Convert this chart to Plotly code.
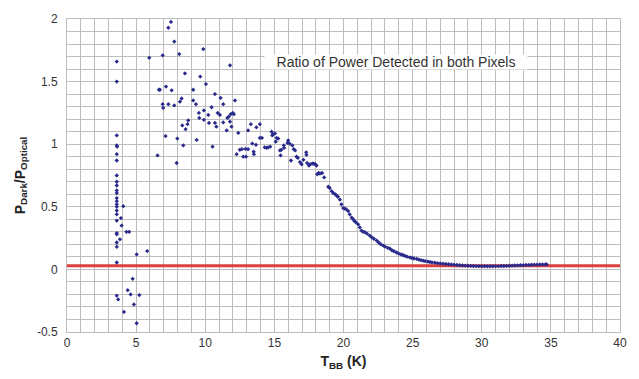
import plotly.graph_objects as go

# Blackbody temperature (K) and measured dark/optical power ratio
t_bb = [
    # low-temperature scatter
    3.6, 3.6, 3.6, 3.6, 3.62, 3.6, 3.6, 3.6, 3.6, 3.6, 3.6, 3.6, 3.6, 3.6,
    3.6, 3.6, 3.6, 3.6, 3.6, 3.6, 3.6, 3.6, 3.6, 3.6, 3.6, 3.7,
    4.07, 3.9, 3.95, 3.83, 4.3, 4.5, 5.04, 5.8, 4.75, 4.39, 4.6, 5.23, 4.84,
    4.12, 5.04,
    # 6-12 K scatter
    5.95, 6.92, 7.33, 7.52, 7.76, 8.12, 9.86, 11.79, 8.53, 9.64, 10.05,
    6.65, 6.72, 7.16, 7.57, 9.13, 10.7, 11.11, 8.29, 8.17, 9.13, 9.33, 6.92,
    7.33, 7.76, 6.96, 11.3, 12.15, 10.46, 9.9, 9.54, 10.22, 10.9, 11.06,
    11.7, 11.6, 11.85, 12.0, 9.57, 9.9, 8.77, 10.27, 10.7, 11.3, 11.79, 8.34,
    8.72, 10.8, 11.9, 8.58, 11.55, 12.39, 7.98, 9.38, 7.13, 8.41, 10.53,
    6.55, 7.93,
    # 12-19 K band
    12.07, 12.27, 12.5, 12.65, 12.9, 12.75, 12.95, 13.1, 13.5, 13.52, 13.3,
    13.1, 13.7, 13.95, 13.4, 13.67, 13.95, 14.1, 14.3, 14.45, 14.55, 14.7,
    14.8, 14.9, 14.85, 15.04, 15.28, 15.16, 15.1, 15.4, 15.5, 15.45, 15.7,
    15.68, 16.0, 16.1, 16.3, 15.95, 16.4, 16.2, 16.5, 16.6, 16.7, 16.85,
    16.97, 17.3, 17.32, 17.1, 17.37, 17.5, 17.6, 17.75, 17.85, 17.95, 18.05,
    18.1, 18.2, 18.3, 18.45, 18.6, 18.9,
    # high-temperature tail
    19.0, 19.15, 19.26, 19.4, 19.5, 19.6, 19.74, 19.85, 19.98, 20.1, 20.2,
    20.34, 20.45, 20.59, 20.7, 20.8, 20.9, 21.06, 21.18, 21.3, 21.42, 21.55,
    21.7, 21.9, 22.05, 22.2, 22.4, 22.55, 22.7, 22.87, 23.0, 23.2, 23.35,
    23.5, 23.65, 23.84, 24.0, 24.15, 24.3, 24.45, 24.6, 24.8, 24.95, 25.1,
    25.3, 25.45, 25.6, 25.76, 25.9, 26.1, 26.25, 26.4, 26.6, 26.8, 27.0,
    27.2, 27.4, 27.6, 27.8, 28.0, 28.2, 28.4, 28.6, 28.8, 29.0, 29.2, 29.4,
    29.6, 29.8, 30.0, 30.2, 30.4, 30.6, 30.8, 31.0, 31.2, 31.4, 31.6, 31.8,
    32.0, 32.2, 32.4, 32.6, 32.8, 33.0, 33.2, 33.4, 33.6, 33.8, 34.0, 34.2,
    34.4, 34.6, 34.7,
]

ratio = [
    1.66, 1.50, 1.07, 0.99, 0.98, 0.92, 0.87, 0.75, 0.70, 0.67, 0.63, 0.61,
    0.57, 0.545, 0.52, 0.50, 0.47, 0.44, 0.39, 0.29, 0.28, 0.215, 0.18, 0.055,
    -0.21, -0.24,
    0.505, 0.41, 0.35, 0.24, 0.30, 0.30, 0.12, 0.146, -0.075, -0.166, -0.20,
    -0.205, -0.28, -0.34, -0.43,
    1.69, 1.71, 1.93, 1.977, 1.82, 1.72, 1.76, 1.63, 1.565, 1.54, 1.48,
    1.435, 1.435, 1.46, 1.43, 1.435, 1.40, 1.37, 1.365, 1.34, 1.35, 1.32,
    1.32, 1.32, 1.31, 1.29, 1.32, 1.35, 1.295, 1.27, 1.25, 1.234, 1.25,
    1.234, 1.22, 1.21, 1.24, 1.25, 1.21, 1.195, 1.19, 1.17, 1.17, 1.174,
    1.18, 1.15, 1.16, 1.14, 1.14, 1.12, 1.11, 1.09, 1.045, 1.034, 1.065,
    0.99, 0.98, 0.91, 0.85,
    1.24, 0.92, 0.955, 0.96, 0.962, 0.90, 0.90, 0.96, 0.94, 0.92, 1.16,
    1.11, 1.135, 1.16, 1.005, 0.995, 1.05, 1.05, 0.975, 0.97, 0.975, 0.98,
    1.10, 1.08, 1.07, 1.086, 1.045, 1.05, 1.02, 0.95, 0.955, 0.91, 0.97,
    0.99, 1.03, 1.005, 0.99, 1.01, 0.96, 0.87, 0.95, 0.90, 0.89, 0.857,
    0.84, 0.935, 0.915, 0.875, 0.85, 0.83, 0.84, 0.845, 0.845, 0.84, 0.83,
    0.76, 0.77, 0.765, 0.77, 0.735, 0.66,
    0.65, 0.625, 0.61, 0.60, 0.59, 0.58, 0.557, 0.52, 0.49, 0.485, 0.48,
    0.466, 0.44, 0.414, 0.40, 0.385, 0.375, 0.36, 0.335, 0.31, 0.30, 0.297,
    0.285, 0.27, 0.255, 0.245, 0.23, 0.215, 0.20, 0.19, 0.182, 0.172, 0.166,
    0.153, 0.145, 0.135, 0.126, 0.12, 0.115, 0.108, 0.102, 0.096, 0.091,
    0.087, 0.084, 0.078, 0.074, 0.07, 0.066, 0.0625, 0.059, 0.056, 0.053,
    0.05, 0.047, 0.045, 0.043, 0.041, 0.039, 0.037, 0.035, 0.033, 0.031,
    0.030, 0.029, 0.028, 0.027, 0.026, 0.026, 0.025, 0.025, 0.025, 0.025,
    0.025, 0.026, 0.026, 0.027, 0.027, 0.028, 0.029, 0.030, 0.031, 0.032,
    0.033, 0.034, 0.035, 0.036, 0.037, 0.038, 0.038, 0.039, 0.039, 0.040,
    0.040,
]

# Reference level of the ratio
reference_level = 0.03
reference_span = [0, 40]

x_ticks = [0, 5, 10, 15, 20, 25, 30, 35, 40]
y_ticks = [-0.5, 0, 0.5, 1, 1.5, 2]
y_tick_labels = ["-0.5", "0", "0.5", "1", "1.5", "2"]

GRID = "#bdbdbd"
FONT = "Liberation Sans, Arial, sans-serif"

fig = go.Figure()

fig.add_trace(go.Scatter(
    x=reference_span,
    y=[reference_level, reference_level],
    mode="lines",
    line=dict(color="#dc3f3a", width=3),
    hoverinfo="skip",
))

fig.add_trace(go.Scatter(
    x=t_bb,
    y=ratio,
    mode="markers",
    marker=dict(symbol="diamond", size=3.3, color="#2a2a8c", line=dict(width=0)),
))

fig.add_annotation(
    x=23.8, y=1.66, xref="x", yref="y",
    text="Ratio of Power Detected in both Pixels",
    showarrow=False,
    font=dict(family=FONT, size=14, color="#333333"),
    bgcolor="white",
    borderpad=0,
    width=262,
    height=14,
)

fig.update_layout(
    width=639,
    height=379,
    margin=dict(l=67, r=19, t=12, b=47),
    paper_bgcolor="white",
    plot_bgcolor="white",
    showlegend=False,
    font=dict(family=FONT, size=12, color="#333333"),
)

fig.update_xaxes(
    range=[0, 40],
    tickmode="array",
    tickvals=x_ticks,
    ticks="",
    showgrid=True,
    gridcolor=GRID,
    gridwidth=1,
    zeroline=False,
    showline=True,
    linecolor=GRID,
    linewidth=1,
    mirror=True,
    minor=dict(dtick=1, tick0=0, showgrid=True, gridcolor=GRID, gridwidth=1),
    tickfont=dict(family=FONT, size=12, color="#333333"),
    title=dict(
        text="T<sub>BB</sub> (K)",
        font=dict(family=FONT, size=14, color="#222222", weight="bold"),
        standoff=6,
    ),
)

fig.update_yaxes(
    range=[-0.5, 2],
    tickmode="array",
    tickvals=y_ticks,
    ticktext=y_tick_labels,
    ticks="",
    showgrid=True,
    gridcolor=GRID,
    gridwidth=1,
    zeroline=False,
    showline=True,
    linecolor=GRID,
    linewidth=1,
    mirror=True,
    minor=dict(dtick=0.1, tick0=0, showgrid=True, gridcolor=GRID, gridwidth=1),
    tickfont=dict(family=FONT, size=12, color="#333333"),
    ticklabelstandoff=6,
    title=dict(
        text="P<sub>Dark</sub>/P<sub>Optical</sub>",
        font=dict(family=FONT, size=14, color="#222222", weight="bold"),
        standoff=8,
    ),
)

fig.write_html("out.html")
